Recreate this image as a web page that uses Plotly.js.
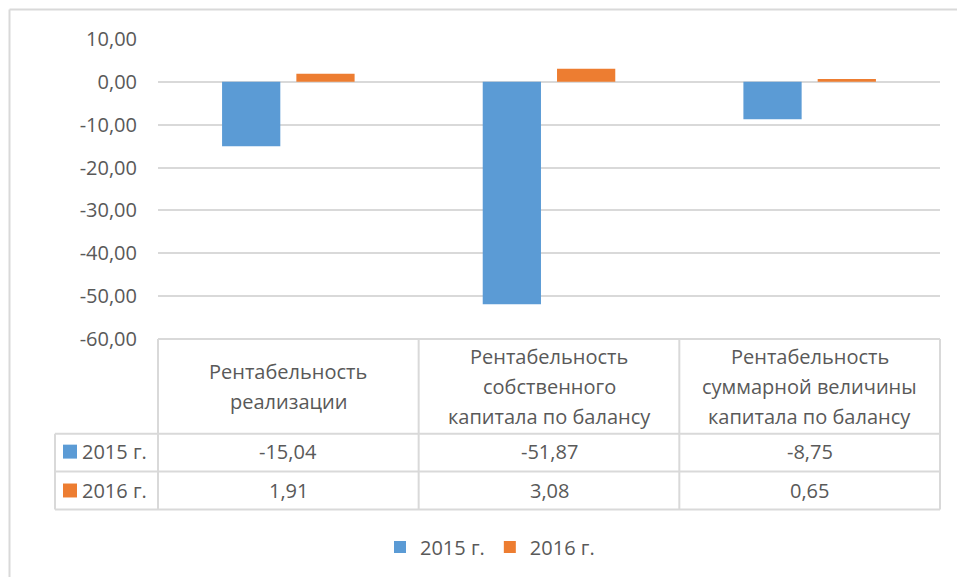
<!DOCTYPE html>
<html>
<head>
<meta charset="utf-8">
<script src="https://cdn.plot.ly/plotly-3.0.1.min.js"></script>
<style>
  html, body { margin: 0; padding: 0; background: #ffffff; }
  #chart { width: 957px; height: 577px; }
</style>
</head>
<body>
<div id="chart"></div>
<script>
// ---- Data ----
const categories = [
  'Рентабельность\nреализации',
  'Рентабельность\nсобственного\nкапитала по балансу',
  'Рентабельность\nсуммарной величины\nкапитала по балансу'
];
const seriesNames = ['2015 г.', '2016 г.'];
const values2015 = [-15.04, -51.87, -8.75];
const values2016 = [1.91, 3.08, 0.65];
const yTickValues = [10, 0, -10, -20, -30, -40, -50, -60];

// ---- Styling / layout helpers ----
const colors = ['#5B9BD5', '#ED7D31'];
const textColor = '#595959';
const gridColor = '#D9D9D9';
const FONT = 'Open Sans, Noto Sans, sans-serif';
const W = 957, H = 577;
const M = { l: 158, r: 17, t: 39, b: 237 };
const plotW = W - M.l - M.r, plotH = H - M.t - M.b;
const px2x = p => (p - M.l) / plotW;
const py2y = p => (H - M.b - p) / plotH;
const fmt = v => v.toFixed(2).replace('.', ',');

const seriesValues = [values2015, values2016];
const catIdx = categories.map((c, i) => i);

const traces = seriesValues.map((vals, s) => ({
  type: 'bar',
  name: seriesNames[s],
  x: catIdx,
  y: vals,
  marker: { color: colors[s], line: { width: 0 } },
  hoverinfo: 'skip'
}));

const shapes = [];
const annotations = [];
const line = (x0, y0, x1, y1, w) => shapes.push({
  type: 'line', xref: 'paper', yref: 'paper',
  x0: x0, y0: y0, x1: x1, y1: y1,
  line: { color: gridColor, width: w || 2 }
});

// outer chart frame (top and left visible)
line(px2x(9.5), py2y(9.5), px2x(960), py2y(9.5));
line(px2x(9.5), py2y(9.5), px2x(9.5), py2y(580));

// data table grid
const tLeft = px2x(55), tRight = 1;
const yHeadBot = py2y(435), yRow1Bot = py2y(473), yRow2Bot = py2y(511);
line(0, 0, 1, 0);
line(tLeft, yHeadBot, tRight, yHeadBot);
line(tLeft, yRow1Bot, tRight, yRow1Bot);
line(tLeft, yRow2Bot, tRight, yRow2Bot);
line(tLeft, yHeadBot, tLeft, yRow2Bot);
[0, 1 / 3, 2 / 3, 1].forEach(x => line(x, 0, x, yRow2Bot));

// header text (category names)
categories.forEach((c, i) => {
  const lines = c.split('\n');
  lines.forEach((t, k) => {
    const cy = 387.5 + (k - (lines.length - 1) / 2) * 30;
    annotations.push({
      xref: 'x', yref: 'paper', x: i, y: py2y(cy),
      xanchor: 'center', yanchor: 'middle', showarrow: false,
      text: t, font: { family: FONT, size: 20, color: textColor }
    });
  });
});

// rows: legend key + name + values
const rowCenters = [453, 492];
seriesValues.forEach((vals, s) => {
  const cy = rowCenters[s];
  shapes.push({
    type: 'rect', xref: 'paper', yref: 'paper',
    x0: px2x(63), x1: px2x(77), y0: py2y(cy - 7), y1: py2y(cy + 7),
    fillcolor: colors[s], line: { width: 0 }
  });
  annotations.push({
    xref: 'paper', yref: 'paper', x: px2x(80), y: py2y(cy),
    xanchor: 'left', yanchor: 'middle', showarrow: false,
    text: seriesNames[s], font: { family: FONT, size: 20, color: textColor }
  });
  vals.forEach((v, i) => {
    annotations.push({
      xref: 'x', yref: 'paper', x: i, y: py2y(cy),
      xanchor: 'center', yanchor: 'middle', showarrow: false,
      text: fmt(v), font: { family: FONT, size: 20, color: textColor }
    });
  });
});

const layout = {
  width: W, height: H,
  margin: M,
  paper_bgcolor: '#ffffff', plot_bgcolor: '#ffffff',
  font: { family: FONT, size: 20, color: textColor },
  separators: ', ',
  barmode: 'group',
  bargap: 0.43,
  bargroupgap: 0.216,
  showlegend: true,
  legend: {
    orientation: 'h', x: px2x(490), xanchor: 'center',
    y: py2y(547), yanchor: 'middle',
    font: { family: FONT, size: 20, color: textColor },
    itemwidth: 30, traceorder: 'normal'
  },
  xaxis: {
    type: 'linear', range: [-0.5, 2.5], showticklabels: false,
    showgrid: false, zeroline: false, showline: false, ticks: '', fixedrange: true
  },
  yaxis: {
    range: [-60, 10], tickvals: yTickValues, ticktext: yTickValues.map(fmt),
    showgrid: true, gridcolor: gridColor, gridwidth: 2,
    zeroline: true, zerolinecolor: gridColor, zerolinewidth: 2,
    showline: false, ticks: '', ticklabelstandoff: 20,
    tickfont: { family: FONT, size: 20, color: textColor }, fixedrange: true
  },
  shapes: shapes,
  annotations: annotations
};

Plotly.newPlot('chart', traces, layout, { displayModeBar: false, staticPlot: true });
</script>
</body>
</html>
